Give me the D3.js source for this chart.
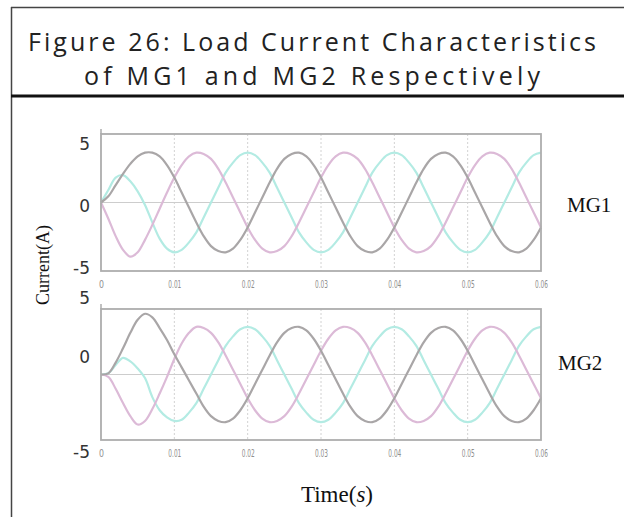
<!DOCTYPE html>
<html><head><meta charset="utf-8">
<script src="https://cdn.jsdelivr.net/npm/d3@7"></script>
<style>html,body{margin:0;padding:0;background:#fff;} svg{display:block;}</style>
</head><body>
<svg id="c" width="624" height="517"></svg>
<script>
// ---------------- data ----------------
const titleLines = ["Figure 26: Load Current Characteristics", "of MG1 and MG2 Respectively"];
const xLabelMain = "Time(";
const xLabelUnit = "s";
const xLabelEnd = ")";
const yLabel = "Current(A)";
const panelNames = ["MG1", "MG2"];
const xTicks = [0, 0.01, 0.02, 0.03, 0.04, 0.05, 0.06];
const xTickLabels = ["0", "0.01", "0.02", "0.03", "0.04", "0.05", "0.06"];
const yTicks = [5, 0, -5];
const yTickLabels = ["5", "0", "-5"];

const time = [0,0.001,0.002,0.003,0.004,0.005,0.006,0.007,0.008,0.009,
  0.010,0.011,0.012,0.013,0.014,0.015,0.016,0.017,0.018,0.019,
  0.020,0.021,0.022,0.023,0.024,0.025,0.026,0.027,0.028,0.029,
  0.030,0.031,0.032,0.033,0.034,0.035,0.036,0.037,0.038,0.039,
  0.040,0.041,0.042,0.043,0.044,0.045,0.046,0.047,0.048,0.049,
  0.050,0.051,0.052,0.053,0.054,0.055,0.056,0.057,0.058,0.059,0.060];

// MG1 load currents (A)
const mg1PhaseA = [0,1.0,2.0,2.2,1.7,0.9,-0.2,-1.6,-2.9,-3.7,
  -4.0,-3.8,-3.2,-2.4,-1.2,0.0,1.2,2.4,3.2,3.8,
  4.0,3.8,3.2,2.4,1.2,0.0,-1.2,-2.4,-3.2,-3.8,
  -4.0,-3.8,-3.2,-2.4,-1.2,0.0,1.2,2.4,3.2,3.8,
  4.0,3.8,3.2,2.4,1.2,0.0,-1.2,-2.4,-3.2,-3.8,
  -4.0,-3.8,-3.2,-2.4,-1.2,0.0,1.2,2.4,3.2,3.8,4.0];
const mg1PhaseB = [0,0.5,1.4,2.3,3.1,3.7,4.0,4.0,3.7,3.0,
  2.0,0.8,-0.4,-1.6,-2.7,-3.5,-3.9,-4.0,-3.7,-3.0,
  -2.0,-0.8,0.4,1.6,2.7,3.5,3.9,4.0,3.7,3.0,
  2.0,0.8,-0.4,-1.6,-2.7,-3.5,-3.9,-4.0,-3.7,-3.0,
  -2.0,-0.8,0.4,1.6,2.7,3.5,3.9,4.0,3.7,3.0,
  2.0,0.8,-0.4,-1.6,-2.7,-3.5,-3.9,-4.0,-3.7,-3.0,-2.0];
const mg1PhaseC = [0,-1.3,-2.7,-3.8,-4.35,-4.0,-3.0,-1.8,-0.5,0.8,
  2.0,3.0,3.7,4.0,3.9,3.5,2.7,1.6,0.4,-0.8,
  -2.0,-3.0,-3.7,-4.0,-3.9,-3.5,-2.7,-1.6,-0.4,0.8,
  2.0,3.0,3.7,4.0,3.9,3.5,2.7,1.6,0.4,-0.8,
  -2.0,-3.0,-3.7,-4.0,-3.9,-3.5,-2.7,-1.6,-0.4,0.8,
  2.0,3.0,3.7,4.0,3.9,3.5,2.7,1.6,0.4,-0.8,-2.0];

// MG2 load currents (A)
const mg2PhaseA = [0,0.1,0.8,1.4,1.1,0.5,-0.3,-1.9,-3.0,-3.6,
  -3.9,-3.8,-3.2,-2.4,-1.2,0.0,1.2,2.4,3.2,3.8,
  4.0,3.8,3.2,2.4,1.2,0.0,-1.2,-2.4,-3.2,-3.8,
  -4.0,-3.8,-3.2,-2.4,-1.2,0.0,1.2,2.4,3.2,3.8,
  4.0,3.8,3.2,2.4,1.2,0.0,-1.2,-2.4,-3.2,-3.8,
  -4.0,-3.8,-3.2,-2.4,-1.2,0.0,1.2,2.4,3.2,3.8,4.0];
const mg2PhaseB = [0,0.1,1.0,2.2,3.5,4.6,5.1,4.8,3.9,2.9,
  1.7,0.6,-0.5,-1.6,-2.7,-3.5,-3.9,-4.0,-3.7,-3.0,
  -2.0,-0.8,0.4,1.6,2.7,3.5,3.9,4.0,3.7,3.0,
  2.0,0.8,-0.4,-1.6,-2.7,-3.5,-3.9,-4.0,-3.7,-3.0,
  -2.0,-0.8,0.4,1.6,2.7,3.5,3.9,4.0,3.7,3.0,
  2.0,0.8,-0.4,-1.6,-2.7,-3.5,-3.9,-4.0,-3.7,-3.0,-2.0];
const mg2PhaseC = [0,-0.2,-1.2,-2.4,-3.5,-4.2,-3.9,-2.9,-1.6,-0.2,
  1.3,2.6,3.5,4.0,3.9,3.5,2.7,1.6,0.4,-0.8,
  -2.0,-3.0,-3.7,-4.0,-3.9,-3.5,-2.7,-1.6,-0.4,0.8,
  2.0,3.0,3.7,4.0,3.9,3.5,2.7,1.6,0.4,-0.8,
  -2.0,-3.0,-3.7,-4.0,-3.9,-3.5,-2.7,-1.6,-0.4,0.8,
  2.0,3.0,3.7,4.0,3.9,3.5,2.7,1.6,0.4,-0.8,-2.0];

// ---------------- layout ----------------
const svg = d3.select("#c");
const W = 624, H = 517;
const phaseColors = ["#b3ebe3", "#dcbad7", "#a9a6a7"];

const panels = [
  {name: panelNames[0], series: [mg1PhaseA, mg1PhaseC, mg1PhaseB], top: 134, bottom: 271,
   labelShift: [4, 3.5, 3], nameY: 205, nameX: 567},
  {name: panelNames[1], series: [mg2PhaseA, mg2PhaseC, mg2PhaseB], top: 309, bottom: 440,
   labelShift: [-17, -17, 18], nameY: 363, nameX: 558}
];
const plotLeft = 101, plotRight = 541;

// outer frame
svg.append("line").attr("x1", 11).attr("x2", W).attr("y1", 7.5).attr("y2", 7.5)
  .attr("stroke", "#444").attr("stroke-width", 1.5);
svg.append("line").attr("x1", 11.5).attr("x2", 11.5).attr("y1", 7).attr("y2", H)
  .attr("stroke", "#444").attr("stroke-width", 1.5);
svg.append("line").attr("x1", 11).attr("x2", W).attr("y1", 96).attr("y2", 96)
  .attr("stroke", "#111").attr("stroke-width", 3);

// title
const title = svg.append("g").attr("font-family", "'Open Sans', 'DejaVu Sans', sans-serif")
  .attr("font-size", 25).attr("fill", "#222").attr("text-anchor", "middle");
title.append("text").attr("x", 312).attr("y", 51).attr("textLength", 568)
  .attr("lengthAdjust", "spacing").text(titleLines[0]);
title.append("text").attr("x", 312).attr("y", 85).attr("textLength", 456)
  .attr("lengthAdjust", "spacing").text(titleLines[1]);

const x = d3.scaleLinear().domain([0, 0.06]).range([plotLeft, plotRight]);

panels.forEach((p) => {
  const y = d3.scaleLinear().domain([-5.5, 5.5]).range([p.bottom, p.top]);
  const g = svg.append("g");

  // vertical dotted grid
  g.selectAll(".vg").data(xTicks.slice(1, -1)).enter().append("line")
    .attr("x1", d => x(d)).attr("x2", d => x(d))
    .attr("y1", p.top).attr("y2", p.bottom)
    .attr("stroke", "#d2d2d2").attr("stroke-width", 1).attr("stroke-dasharray", "2,2");
  // zero line
  g.append("line").attr("x1", plotLeft).attr("x2", plotRight)
    .attr("y1", y(0)).attr("y2", y(0)).attr("stroke", "#cdcdcd").attr("stroke-width", 1.2);

  // curves
  const line = d3.line().x((d, i) => x(time[i])).y(d => y(d)).curve(d3.curveCatmullRom);
  p.series.forEach((s, i) => {
    g.append("path").datum(s).attr("d", line).attr("fill", "none")
      .attr("stroke", phaseColors[i]).attr("stroke-width", 2.2)
      .attr("stroke-linejoin", "round");
  });

  // frame
  g.append("rect").attr("x", plotLeft).attr("y", p.top)
    .attr("width", plotRight - plotLeft).attr("height", p.bottom - p.top)
    .attr("fill", "none").attr("stroke", "#adadad").attr("stroke-width", 1.8);
  g.append("line").attr("x1", plotLeft).attr("x2", plotLeft)
    .attr("y1", p.top - 5).attr("y2", p.top).attr("stroke", "#adadad").attr("stroke-width", 1.5);

  // x axis tick labels
  const xa = g.append("g").attr("transform", `translate(0,${p.bottom + 6})`)
    .call(d3.axisBottom(x).tickValues(xTicks).tickSize(0)
      .tickFormat((d, i) => xTickLabels[i]));
  xa.select(".domain").remove();
  xa.selectAll("text").attr("font-family", "'DejaVu Sans', sans-serif")
    .attr("font-size", 11).attr("fill", "#8f8f8f")
    .attr("textLength", (d, i) => i === 0 ? 5 : 13).attr("lengthAdjust", "spacingAndGlyphs");

  // y tick labels
  g.selectAll(".yl").data(yTicks).enter().append("text")
    .attr("x", 90).attr("y", (d, i) => y(d) + p.labelShift[i])
    .attr("dy", "0.35em").attr("text-anchor", "end")
    .attr("font-family", "'DejaVu Sans', sans-serif").attr("font-size", 17)
    .attr("fill", "#333").text((d, i) => yTickLabels[i]);

  // panel name
  g.append("text").attr("x", p.nameX).attr("y", p.nameY).attr("dy", "0.35em")
    .attr("font-family", "'Liberation Serif', 'Times New Roman', serif")
    .attr("font-size", 21).attr("fill", "#111").text(p.name);
});

// axis titles
svg.append("text").attr("transform", "translate(49,265) rotate(-90)")
  .attr("text-anchor", "middle").attr("font-family", "'Liberation Serif', serif")
  .attr("font-size", 18).attr("fill", "#111").text(yLabel);
const xt = svg.append("text").attr("x", 337).attr("y", 502).attr("text-anchor", "middle")
  .attr("font-family", "'Liberation Serif', serif").attr("font-size", 23)
  .attr("fill", "#111");
xt.append("tspan").text(xLabelMain);
xt.append("tspan").attr("font-style", "italic").text(xLabelUnit);
xt.append("tspan").text(xLabelEnd);
</script>
</body></html>
